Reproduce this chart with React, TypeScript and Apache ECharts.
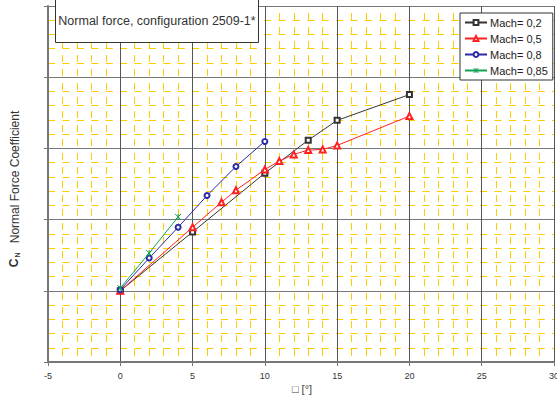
import React, { useEffect, useRef } from 'react';
import * as echarts from 'echarts';

// Angle of attack [deg] and normal force coefficient per Mach number
const alphaM02 = [0, 5, 10, 13, 15, 20];
const cnM02 = [0, 0.413, 0.826, 1.058, 1.197, 1.378];
const alphaM05 = [0, 5, 7, 8, 10, 11, 12, 13, 14, 15, 20];
const cnM05 = [0, 0.446, 0.622, 0.706, 0.852, 0.911, 0.958, 0.988, 0.993, 1.021, 1.227];
const alphaM08 = [0, 2, 4, 6, 8, 10];
const cnM08 = [0.007, 0.23, 0.446, 0.669, 0.873, 1.049];
const alphaM085 = [0, 2, 4];
const cnM085 = [0.019, 0.265, 0.519];

const seriesNames = ['Mach= 0,2', 'Mach= 0,5', 'Mach= 0,8', 'Mach= 0,85'];
const seriesColors = ['#333333', '#ff2020', '#2a2aa8', '#10a050'];
const xMin = -5;
const xMax = 30;
const xInterval = 5;
const yMin = -0.5;
const yMax = 2.0;
const yInterval = 0.5;

const titleText = 'Normal force, configuration 2509-1*';
const yLabelText = 'Normal Force Coefficient';
const xLabelText = '\u25A1 [\u00B0]';

const FONT = '"Liberation Sans", Arial, sans-serif';

function zip(xs: number[], ys: number[]) {
  return xs.map((x, i) => [x, ys[i]]);
}

export default function App() {
  const ref = useRef<HTMLDivElement>(null);
  useEffect(() => {
    if (!ref.current) return;
    const chart = echarts.init(ref.current, undefined, { renderer: 'svg' });
    const symbols = [
      'emptyRect',
      'emptyTriangle',
      'emptyCircle',
      'path://M0,0L10,10M10,0L0,10M5,0L5,10',
    ];
    const sizes = [5, 6, 5, 6];
    const datasets = [
      zip(alphaM02, cnM02),
      zip(alphaM05, cnM05),
      zip(alphaM08, cnM08),
      zip(alphaM085, cnM085),
    ];
    const series = datasets.map((d, i) => ({
      name: seriesNames[i],
      type: 'line',
      data: d,
      symbol: symbols[i],
      symbolSize: sizes[i],
      showAllSymbol: true,
      lineStyle: { color: seriesColors[i], width: 1 },
      itemStyle: { color: seriesColors[i], borderColor: seriesColors[i], borderWidth: 1 },
      z: 10 + i,
    }));
    chart.setOption({
      animation: false,
      backgroundColor: '#ffffff',
      grid: {
        left: 48,
        right: 3,
        top: 6,
        bottom: 39,
        containLabel: false,
        outerBoundsMode: 'none',
      },
      legend: {
        orient: 'vertical',
        left: 460,
        top: 13,
        backgroundColor: '#ffffff',
        borderColor: '#333333',
        borderWidth: 1,
        borderRadius: 0,
        padding: [4, 5, 4, 4],
        itemGap: 5,
        itemWidth: 22,
        itemHeight: 6,
        itemStyle: { borderWidth: 1 },
        textStyle: { fontSize: 11, color: '#222', fontFamily: FONT, padding: [0, 0, 0, -2] },
        data: seriesNames,
        z: 20,
      },
      xAxis: {
        type: 'value',
        min: xMin,
        max: xMax,
        interval: xInterval,
        axisLine: { show: true, onZero: false, lineStyle: { color: '#777', width: 2 } },
        axisTick: { show: true, length: 4, lineStyle: { color: '#777' } },
        axisLabel: { fontSize: 9, color: '#333', margin: 9, fontFamily: FONT },
        splitLine: { show: true, lineStyle: { color: '#555', width: 1 } },
        minorTick: { show: false, splitNumber: 5 },
        minorSplitLine: {
          show: true,
          lineStyle: { color: '#ffcc00', width: 1, type: [7, 7], dashOffset: 7 },
        },
      },
      yAxis: {
        type: 'value',
        min: yMin,
        max: yMax,
        interval: yInterval,
        axisLine: { show: true, onZero: false, lineStyle: { color: '#777', width: 2 } },
        axisTick: { show: true, length: 4, lineStyle: { color: '#777' } },
        axisLabel: { show: false },
        splitLine: { show: true, lineStyle: { color: '#777', width: 1 } },
        minorTick: { show: false, splitNumber: 5 },
        minorSplitLine: {
          show: true,
          lineStyle: { color: '#ffcc00', width: 1, type: [7.2, 7.2], dashOffset: 0 },
        },
      },
      graphic: [
        {
          type: 'rect',
          z: 100,
          shape: { x: 55.5, y: -1, width: 203, height: 43.5 },
          style: { fill: '#ffffff', stroke: '#333', lineWidth: 1 },
        },
        {
          type: 'text',
          z: 101,
          x: 157,
          y: 21,
          style: {
            text: titleText,
            font: `12.5px ${FONT}`,
            fill: '#333',
            align: 'center',
            verticalAlign: 'middle',
            textAlign: 'center',
            textVerticalAlign: 'middle',
          },
        },
        {
          type: 'text',
          z: 101,
          x: 15,
          y: 177,
          rotation: Math.PI / 2,
          style: {
            text: yLabelText,
            font: `12px ${FONT}`,
            fill: '#333',
            align: 'center',
            verticalAlign: 'middle',
            textAlign: 'center',
            textVerticalAlign: 'middle',
          },
        },
        {
          type: 'text',
          z: 101,
          x: 14,
          y: 263,
          rotation: Math.PI / 2,
          style: {
            text: 'C',
            font: `bold 12px ${FONT}`,
            fill: '#333',
            align: 'center',
            verticalAlign: 'middle',
            textAlign: 'center',
            textVerticalAlign: 'middle',
          },
        },
        {
          type: 'text',
          z: 101,
          x: 17.5,
          y: 255,
          rotation: Math.PI / 2,
          style: {
            text: 'N',
            font: `bold 7px ${FONT}`,
            fill: '#333',
            align: 'center',
            verticalAlign: 'middle',
            textAlign: 'center',
            textVerticalAlign: 'middle',
          },
        },
        {
          type: 'text',
          z: 101,
          x: 302,
          y: 389,
          style: {
            text: xLabelText,
            font: `11px ${FONT}`,
            fill: '#444',
            align: 'center',
            verticalAlign: 'middle',
            textAlign: 'center',
            textVerticalAlign: 'middle',
          },
        },
      ],
      series,
    });
    return () => chart.dispose();
  }, []);
  return (
    <div
      ref={ref}
      style={{ position: 'fixed', left: 0, top: 0, width: 557, height: 401 }}
    />
  );
}
